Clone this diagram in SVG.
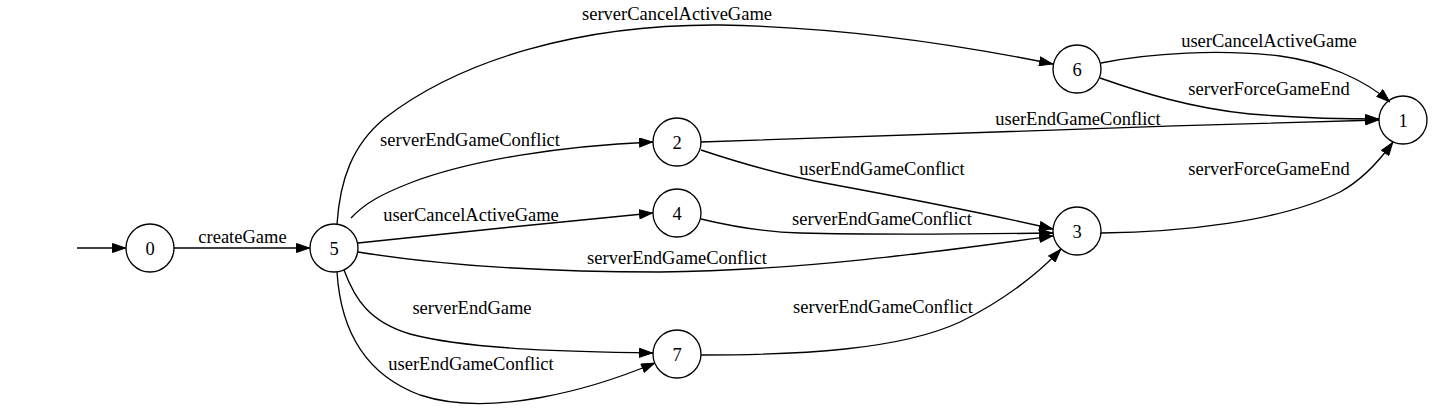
<svg xmlns="http://www.w3.org/2000/svg" width="1433" height="410" viewBox="0 0 1433 410">
<style>
text{font-family:"Liberation Serif","Times New Roman",serif;font-size:18.5px;fill:#000}
.n circle{fill:none;stroke:#000;stroke-width:1.33}
.n text{text-anchor:middle}
.lbl{text-anchor:middle}
#edges path{fill:none;stroke:#000;stroke-width:1.33;marker-end:url(#arr)}
</style>
<defs>
<marker id="arr" markerUnits="userSpaceOnUse" viewBox="0 0 14 10" refX="14" refY="5" markerWidth="14" markerHeight="10" orient="auto">
<polygon points="0.5,0.5 13.5,5 0.5,9.5" fill="#000" stroke="#000" stroke-width="1"/>
</marker>
</defs>
<rect width="1433" height="410" fill="#fff"/>
<g id="edges">
<path d="M77,248 L126,248"/>
<path d="M174,248 L310,248"/>
<path d="M337,224 C340,180 352,145 385,118 C460,60 580,24 720,25 C840,27 960,45 1053,64"/>
<path d="M351,218 C365,203 382,194 410,183 C470,160 560,146 653,142"/>
<path d="M358,243 C450,233 560,222 653,213"/>
<path d="M358,252 C420,262 520,272 660,272 C800,271 950,250 1053,236"/>
<path d="M701,142 C900,135 1150,126 1379,120"/>
<path d="M701,150 C740,163 780,175 830,184 C900,197 980,212 1053,229"/>
<path d="M701,219 C730,226 760,232 800,233 C880,235 980,234 1053,233"/>
<path d="M1101,233 C1180,232 1280,222 1340,192 C1362,180 1380,160 1393,142"/>
<path d="M1101,63 C1150,53 1220,49 1280,56 C1325,62 1365,80 1390,102"/>
<path d="M1100,78 C1140,92 1190,108 1250,114 C1300,118 1340,119 1379,119"/>
<path d="M344,270 C355,300 370,322 410,334 C470,350 580,352 653,353"/>
<path d="M337,272 C340,320 358,372 420,395 C490,418 590,390 655,363"/>
<path d="M701,355 C800,355 900,350 960,322 C1005,300 1040,272 1061,249"/>
</g>
<g id="edge-labels">
<text class="lbl" x="242.5" y="243">createGame</text>
<text class="lbl" x="677" y="20">serverCancelActiveGame</text>
<text class="lbl" x="470" y="146">serverEndGameConflict</text>
<text class="lbl" x="471" y="221">userCancelActiveGame</text>
<text class="lbl" x="677" y="264">serverEndGameConflict</text>
<text class="lbl" x="1078" y="125">userEndGameConflict</text>
<text class="lbl" x="882" y="175">userEndGameConflict</text>
<text class="lbl" x="882" y="225">serverEndGameConflict</text>
<text class="lbl" x="1269" y="175">serverForceGameEnd</text>
<text class="lbl" x="1269" y="47">userCancelActiveGame</text>
<text class="lbl" x="1269" y="95">serverForceGameEnd</text>
<text class="lbl" x="472" y="314">serverEndGame</text>
<text class="lbl" x="471" y="370">userEndGameConflict</text>
<text class="lbl" x="883" y="313">serverEndGameConflict</text>
</g>
<g id="node0" class="n"><circle cx="150" cy="248" r="24"/><text x="150" y="254.5">0</text></g>
<g id="node5" class="n"><circle cx="334" cy="248" r="24"/><text x="334" y="254.5">5</text></g>
<g id="node6" class="n"><circle cx="1077" cy="69" r="24"/><text x="1077" y="75.5">6</text></g>
<g id="node2" class="n"><circle cx="677" cy="142" r="24"/><text x="677" y="148.5">2</text></g>
<g id="node4" class="n"><circle cx="677" cy="213" r="24"/><text x="677" y="219.5">4</text></g>
<g id="node3" class="n"><circle cx="1077" cy="231" r="24"/><text x="1077" y="237.5">3</text></g>
<g id="node1" class="n"><circle cx="1403" cy="120" r="24"/><text x="1403" y="126.5">1</text></g>
<g id="node7" class="n"><circle cx="677" cy="354" r="24"/><text x="677" y="360.5">7</text></g>
</svg>
